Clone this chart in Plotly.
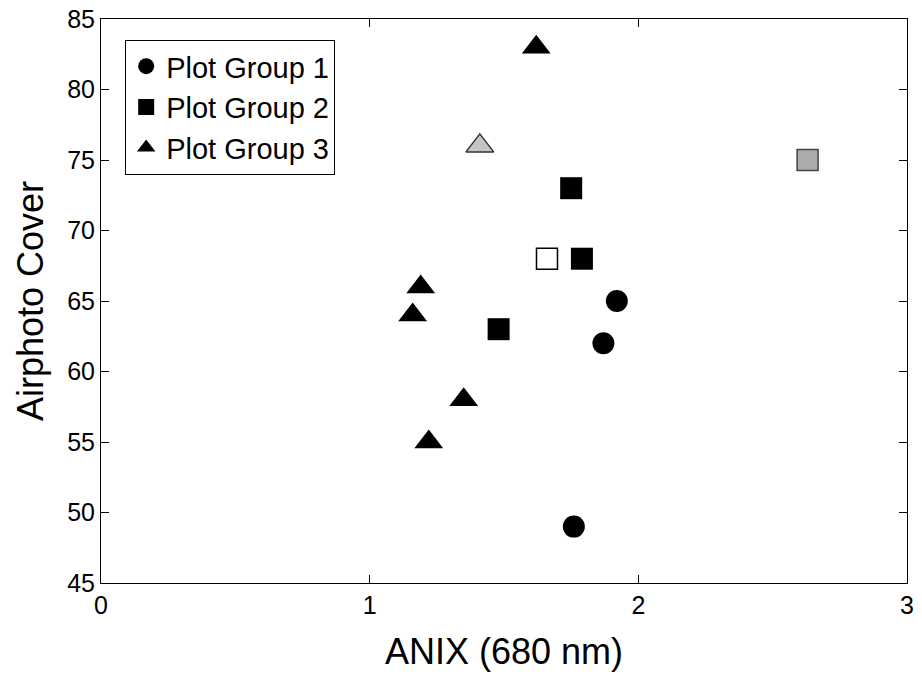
import plotly.graph_objects as go

# Group data
g1_x = [1.92, 1.87, 1.76]
g1_y = [65, 62, 49]

g2_x = [1.75, 1.79, 1.48]
g2_y = [73, 68, 63]
g2_open_x = [1.66]
g2_open_y = [68]
g2_gray_x = [2.63]
g2_gray_y = [75]

g3_x = [1.62, 1.19, 1.16, 1.35, 1.22]
g3_y = [83, 66, 64, 58, 55]
g3_gray_x = [1.41]
g3_gray_y = [76]

FONT = "Liberation Sans, Arial, sans-serif"

fig = go.Figure()
fig.add_trace(go.Scatter(x=g1_x, y=g1_y, mode="markers", name="Plot Group 1",
                         marker=dict(symbol="circle", size=22, color="black")))
fig.add_trace(go.Scatter(x=g2_x, y=g2_y, mode="markers", name="Plot Group 2",
                         marker=dict(symbol="square", size=22, color="black")))
fig.add_trace(go.Scatter(x=g3_x, y=g3_y, mode="markers", name="Plot Group 3",
                         marker=dict(symbol="triangle-up", size=25, color="black")))
fig.add_trace(go.Scatter(x=g2_open_x, y=g2_open_y, mode="markers", showlegend=False,
                         marker=dict(symbol="square", size=21, color="white",
                                     line=dict(color="black", width=1.5))))
fig.add_trace(go.Scatter(x=g2_gray_x, y=g2_gray_y, mode="markers", showlegend=False,
                         marker=dict(symbol="square", size=21, color="#ababab",
                                     line=dict(color="#444", width=1.5))))
fig.add_trace(go.Scatter(x=g3_gray_x, y=g3_gray_y, mode="markers", showlegend=False,
                         marker=dict(symbol="triangle-up", size=24, color="#c4c4c4",
                                     line=dict(color="#333", width=1.5))))

axis_common = dict(showgrid=False, zeroline=False, showline=True, linecolor="black",
                   linewidth=1, mirror="ticks", ticks="inside", ticklen=8,
                   automargin=False,
                   tickcolor="black", tickfont=dict(size=25, color="black", family=FONT))

fig.update_layout(
    width=922, height=688,
    margin=dict(l=101, r=15, t=19, b=105),
    paper_bgcolor="white", plot_bgcolor="white",
    font=dict(family=FONT, color="black"),
    xaxis=dict(range=[0, 3], tickvals=[0, 1, 2, 3], **axis_common,
               title=dict(text="ANIX (680 nm)", font=dict(size=36), standoff=20)),
    yaxis=dict(range=[45, 85], tickvals=[45, 50, 55, 60, 65, 70, 75, 80, 85], **axis_common,
               title=dict(text="Airphoto Cover", font=dict(size=36), standoff=12)),
    legend=dict(x=0.03, y=0.963, xanchor="left", yanchor="top",
                bordercolor="black", borderwidth=1, bgcolor="white",
                font=dict(size=29, color="black", family=FONT),
                entrywidth=210, entrywidthmode="pixels",
                itemsizing="trace", tracegroupgap=0),
)

fig.write_html("out.html")
